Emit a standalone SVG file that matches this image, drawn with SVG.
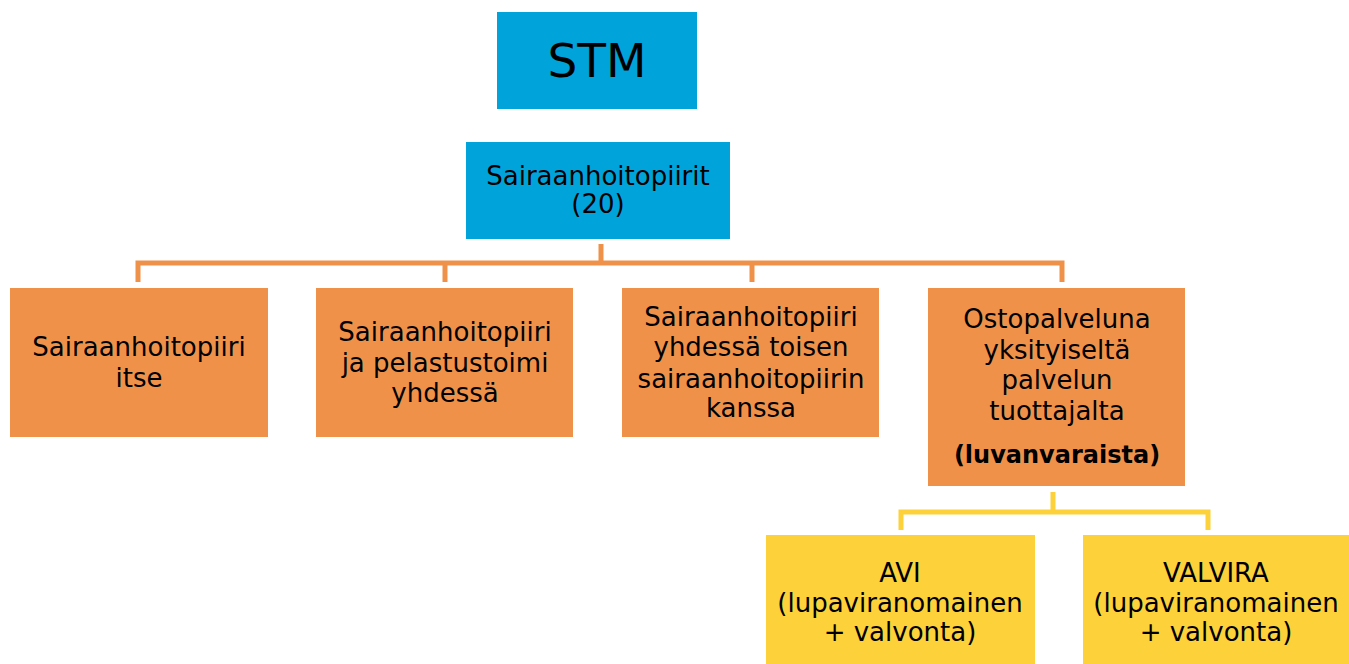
<svg xmlns="http://www.w3.org/2000/svg" width="1349" height="664" viewBox="0 0 1349 664">
<style>
.blue{fill:#00A4DA}
.orange{fill:#F0914A}
.yellow{fill:#FDD13A}
text{font-family:"DejaVu Sans","Liberation Sans",sans-serif;font-size:26px;fill:#000;text-anchor:middle}
.big{font-size:47px}
.b{font-weight:bold;font-size:24px}
.co{fill:none;stroke:#F0914A;stroke-width:5}
.cy{fill:none;stroke:#FDD13A;stroke-width:5}
</style>
<rect width="1349" height="664" fill="#fff"/>
<g id="connectors">
<path class="co" d="M601,244V263M138,282V263H1062V282M445,263V282M752,263V282"/>
<path class="cy" d="M1053,492V512M901,530V512H1208V530"/>
</g>
<g id="stm"><rect class="blue" x="497" y="12" width="200" height="97"/><text class="big" x="597" y="77">STM</text></g>
<g id="shp"><rect class="blue" x="466" y="142" width="264" height="97"/><text x="598" y="185">Sairaanhoitopiirit</text><text x="598" y="213">(20)</text></g>
<g id="n1"><rect class="orange" x="10" y="288" width="258" height="149"/><text x="139" y="356">Sairaanhoitopiiri</text><text x="139" y="387">itse</text></g>
<g id="n2"><rect class="orange" x="316" y="288" width="257" height="149"/><text x="445" y="341">Sairaanhoitopiiri</text><text x="445" y="372">ja pelastustoimi</text><text x="445" y="402">yhdessä</text></g>
<g id="n3"><rect class="orange" x="622" y="288" width="257" height="149"/><text x="751" y="326">Sairaanhoitopiiri</text><text x="751" y="356">yhdessä toisen</text><text x="751" y="388">sairaanhoitopiirin</text><text x="751" y="417">kanssa</text></g>
<g id="n4"><rect class="orange" x="928" y="288" width="257" height="198"/><text x="1057" y="328">Ostopalveluna</text><text x="1057" y="359">yksityiseltä</text><text x="1057" y="389">palvelun</text><text x="1057" y="420">tuottajalta</text><text class="b" x="1057" y="463">(luvanvaraista)</text></g>
<g id="avi"><rect class="yellow" x="766" y="535" width="269" height="129"/><text x="900" y="582">AVI</text><text x="900" y="612">(lupaviranomainen</text><text x="900" y="641">+ valvonta)</text></g>
<g id="valvira"><rect class="yellow" x="1083" y="535" width="266" height="129"/><text x="1216" y="582">VALVIRA</text><text x="1216" y="612">(lupaviranomainen</text><text x="1216" y="641">+ valvonta)</text></g>
</svg>
